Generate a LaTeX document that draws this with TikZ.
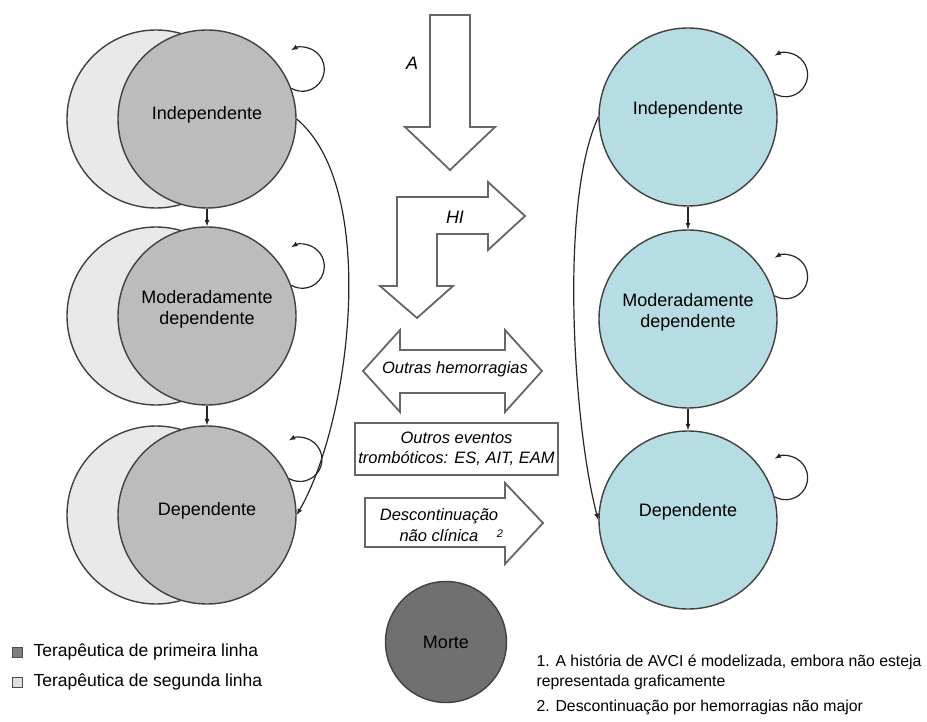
\documentclass[tikz,border=0pt]{standalone}
\usepackage{fontspec}
\setmainfont{Liberation Sans}
\usetikzlibrary{arrows,calc,positioning}
\definecolor{frontgray}{RGB}{188,188,188}
\definecolor{backgray}{RGB}{233,233,233}
\definecolor{stateblue}{RGB}{182,221,227}
\definecolor{deathgray}{RGB}{112,112,112}
\definecolor{linegray}{RGB}{65,65,65}
\tikzset{frontstate/.style={
            draw=linegray,
            fill=frontgray,
            circle,
            line width=1.4pt,
            inner sep=0pt,
            minimum size=178pt
        },
        backstate/.style={
            draw=linegray,
            fill=backgray,
            circle,
            line width=1.4pt,
            inner sep=0pt,
            minimum size=178pt
        },
        bluestate/.style={
            draw=linegray,
            fill=stateblue,
            circle,
            line width=1.4pt,
            inner sep=0pt,
            minimum size=178pt
        },
        deathdot/.style={
            draw=linegray,
            fill=deathgray,
            circle,
            line width=1.4pt,
            inner sep=0pt,
            minimum size=121pt,
            font=\fontsize{18}{22}\selectfont
        },
        statetext/.style={
            align=center,
            font=\fontsize{18}{21}\selectfont},
        flow/.style={
            ->,
            >=latex,
            line width=1.2pt,
            draw=black!85
        },
        bigarrow/.style={
            draw=black!60,
            line width=1.8pt,
            fill=white
        },
        arrowtext/.style={
            align=center,
            font=\fontsize{16.5}{20.5}\selectfont\itshape},
        eventbox/.style={
            draw=black!60,
            line width=1.8pt,
            fill=white,
            inner sep=0pt,
            minimum width=203pt,
            minimum height=52pt,
            align=center,
            font=\fontsize{16.5}{20}\selectfont\itshape
        },
        legendbox/.style={
            draw=black!70,
            line width=1pt,
            inner sep=0pt,
            minimum size=10pt
        },
        legendtext/.style={
            anchor=west,
            font=\fontsize{17.5}{21}\selectfont},
        notetext/.style={
            anchor=west,
            align=left,
            font=\fontsize{15.8}{20}\selectfont}
    }

\begin{document}
\begin{tikzpicture}[x=1pt,y=1pt]
        \useasboundingbox (0,0) rectangle (927,-722);
        \node[backstate] at (156,-119) (lind2) {};
        \node[backstate] at (156,-316) (lmod2) {};
        \node[backstate] at (156,-515) (ldep2) {};
        \node[frontstate] at (207,-119) (lind) {};
        \node[frontstate] at (207,-316) (lmod) {};
        \node[frontstate] at (207,-515) (ldep) {};
        \node[statetext] at ([yshift=4pt]lind.center) (lindlbl) {Independente};
        \node[statetext] at ([yshift=7pt]lmod.center) (lmodlbl) {Moderadamente\\dependente};
        \node[statetext] at ([yshift=4pt]ldep.center) (ldeplbl) {Dependente};

        \node[bluestate] at (688,-117) (rind) {};
        \node[bluestate] at (688,-319) (rmod) {};
        \node[bluestate] at (688,-520) (rdep) {};
        \node[statetext] at ([yshift=7pt]rind.center) (rindlbl) {Independente};
        \node[statetext] at ([yshift=7pt]rmod.center) (rmodlbl) {Moderadamente\\dependente};
        \node[statetext] at ([yshift=8pt]rdep.center) (rdeplbl) {Dependente};

        \draw[flow] (lind) -- (lmod);
        \draw[flow] (lmod) -- (ldep);
        \draw[flow] (rind) -- (rmod);
        \draw[flow] (rmod) -- (rdep);
        \draw[flow] (lind.20) arc[start angle=240, end angle=480, radius=22];
        \draw[flow] (lmod.20) arc[start angle=240, end angle=480, radius=22];
        \draw[flow] (ldep.24) arc[start angle=240, end angle=480, radius=22];
        \draw[flow] (rind.15) arc[start angle=240, end angle=480, radius=22];
        \draw[flow] (rmod.15) arc[start angle=240, end angle=480, radius=22];
        \draw[flow] (rdep.15) arc[start angle=240, end angle=480, radius=22];
        \draw[flow] (lind.east) to[out=-40, in=60, looseness=0.7] (ldep.east);
        \draw[flow] (rind.west) to[out=-115, in=105, looseness=0.6] (rdep.west);

        \draw[bigarrow] (430,-15) -- (470,-15) -- (470,-127) -- (495,-127) -- (450,-170)
            -- (405,-127) -- (430,-127) -- cycle;
        \node[arrowtext, font=\fontsize{18}{20}\selectfont\itshape] at (412,-63) (albl) {A};
        \draw[bigarrow] (397,-197) -- (488,-197) -- (488,-182) -- (525,-216) -- (488,-250)
            -- (488,-234) -- (437,-234) -- (437,-286) -- (453,-286) -- (417,-318)
            -- (380,-286) -- (397,-286) -- cycle;
        \node[arrowtext, font=\fontsize{18}{20}\selectfont\itshape] at (455,-217) (hilbl) {HI};
        \draw[bigarrow] (363,-371) -- (400,-330) -- (400,-350) -- (505,-350) -- (505,-330)
            -- (542,-371) -- (505,-412) -- (505,-393) -- (400,-393) -- (400,-412) -- cycle;
        \node[arrowtext] at (455,-369) (bleedlbl) {Outras hemorragias};
        \node[eventbox] at (456.5,-449) (events) {Outros eventos\\trombóticos: ES, AIT, EAM};
        \draw[bigarrow] (365,-498) -- (505,-498) -- (505,-483) -- (543,-523) -- (505,-564)
            -- (505,-547) -- (365,-547) -- cycle;
        \node[arrowtext] at (439,-525) (stoplbl) {Descontinuação\\não clínica};
        \node[font=\fontsize{11}{12}\selectfont\itshape] at (500,-534) (stopnote) {2};

        \node[deathdot] at (446,-642) (death) {Morte};

        \node[legendbox, fill=black!50] at (17.5,-652) (firstbox) {};
        \node[legendbox, fill=black!12] at (17.5,-682) (secondbox) {};
        \node[legendtext] at (30,-652) (firstlbl) {Terapêutica de primeira linha};
        \node[legendtext] at (30,-682) (secondlbl) {Terapêutica de segunda linha};
        \node[notetext] at (533,-672) (note1) {1. A história de AVCI é modelizada, embora não esteja\\representada graficamente};
        \node[notetext] at (533,-707) (note2) {2. Descontinuação por hemorragias não major};
    \end{tikzpicture}
\end{document}
